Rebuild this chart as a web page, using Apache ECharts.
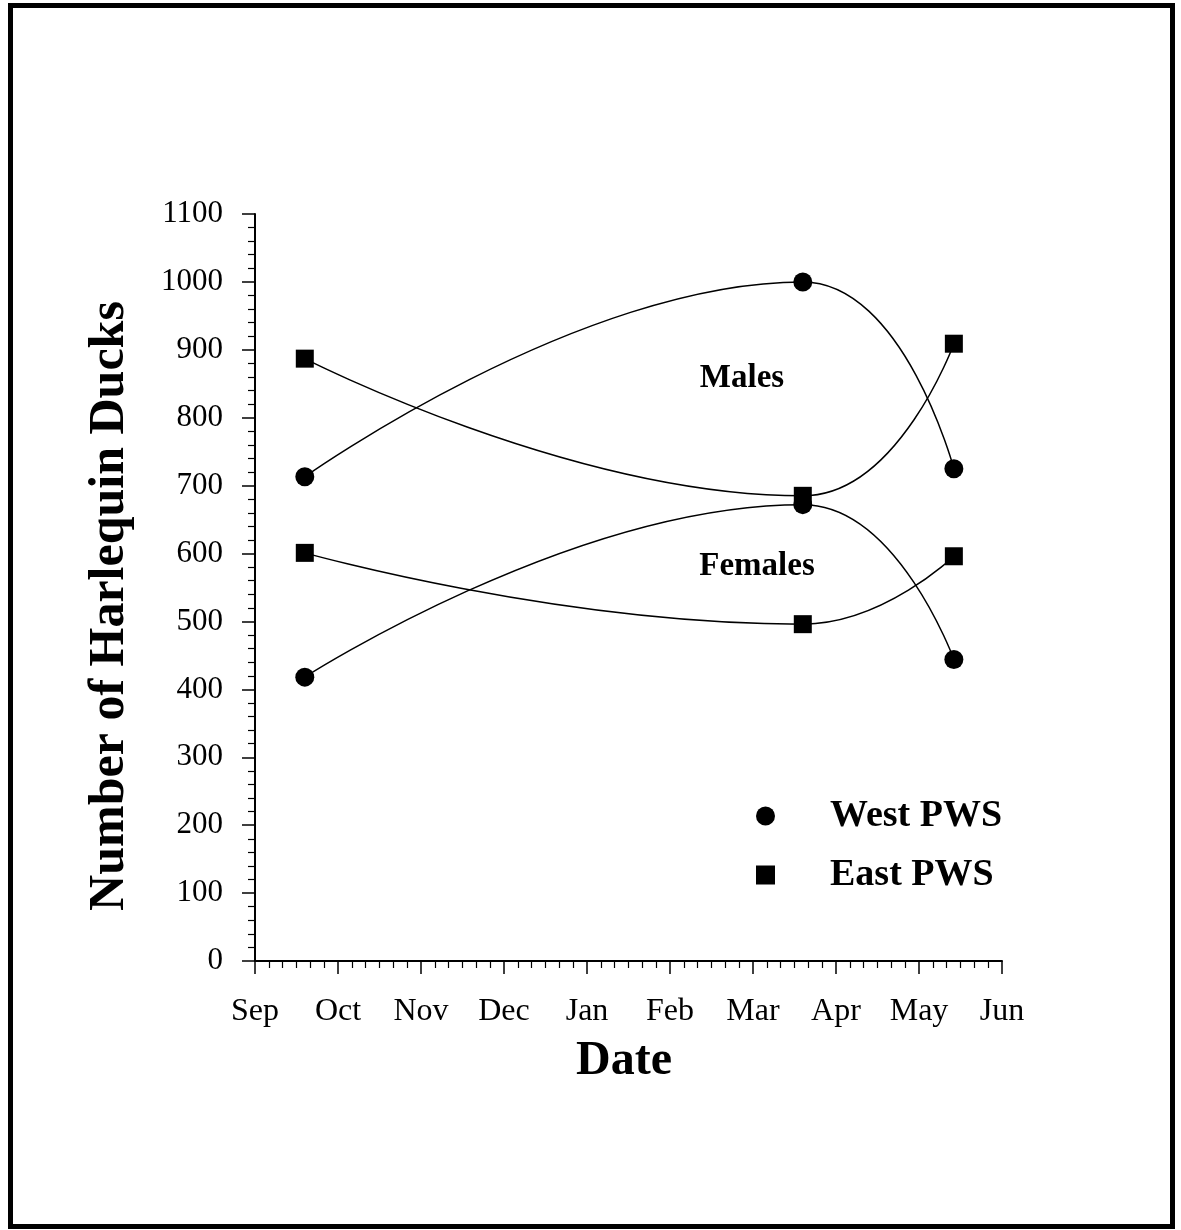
<!DOCTYPE html>
<html>
<head>
<meta charset="utf-8">
<script src="https://cdn.jsdelivr.net/npm/echarts@6/dist/echarts.min.js"></script>
<style>
html,body{margin:0;padding:0;background:#fff;}
#chart{width:1181px;height:1230px;}
</style>
</head>
<body>
<div id="chart"></div>
<script>
// Month tick labels (x axis counted in months from 1 Sep)
const monthLabels = ['Sep','Oct','Nov','Dec','Jan','Feb','Mar','Apr','May','Jun'];
// Survey dates, in months after 1 Sep
const surveyDates = [0.6, 6.6, 8.42];
// Counts of Harlequin Ducks
const westMales   = [713, 1000, 725];
const eastMales   = [887, 685, 909];
const westFemales = [418, 672, 444];
const eastFemales = [601, 496, 596];

const FONT = '"Liberation Serif","Times New Roman",serif';
const pairs = (vals) => surveyDates.map((d, i) => [d, vals[i]]);

function lineSeries(name, vals, symbol, size) {
  return {
    name: name,
    type: 'line',
    data: pairs(vals),
    smooth: 0.5,
    symbol: symbol,
    symbolSize: size,
    showAllSymbol: true,
    itemStyle: {color: '#000'},
    lineStyle: {color: '#000', width: 1.5},
    z: 3
  };
}

const chart = echarts.init(document.getElementById('chart'), null, {renderer: 'canvas'});
chart.setOption({
  animation: false,
  backgroundColor: '#fff',
  grid: {left: 255, right: 179, top: 214, bottom: 269, containLabel: false},
  xAxis: {
    type: 'value', min: 0, max: 9, interval: 1,
    axisLine: {show: true, lineStyle: {color: '#000', width: 2}},
    axisTick: {show: true, length: 13, lineStyle: {color: '#000', width: 1.5}},
    minorTick: {show: true, splitNumber: 6, length: 7, lineStyle: {color: '#000', width: 1.2}},
    splitLine: {show: false},
    axisLabel: {
      margin: 35, color: '#000', fontFamily: FONT, fontSize: 32,
      formatter: (v) => monthLabels[Math.round(v)] || ''
    }
  },
  yAxis: {
    type: 'value', min: 0, max: 1100, interval: 100,
    axisLine: {show: true, lineStyle: {color: '#000', width: 2}},
    axisTick: {show: true, length: 13, lineStyle: {color: '#000', width: 1.5}},
    minorTick: {show: true, splitNumber: 5, length: 7, lineStyle: {color: '#000', width: 1.2}},
    splitLine: {show: false},
    axisLabel: {margin: 32, color: '#000', fontFamily: FONT, fontSize: 31,
      formatter: (v) => String(v)}
  },
  legend: {
    orient: 'vertical', left: 756, top: 797, padding: 0,
    itemWidth: 19, itemHeight: 19, itemGap: 21,
    data: [{name: 'West PWS', icon: 'circle'}, {name: 'East PWS', icon: 'rect'}],
    selectedMode: false,
    textStyle: {fontFamily: FONT, fontSize: 38, fontWeight: 'bold', color: '#000', padding: [6, 0, 0, 50]}
  },
  series: [
    lineSeries('West PWS', westMales, 'circle', 19),
    lineSeries('East PWS', eastMales, 'rect', 18),
    lineSeries('West PWS', westFemales, 'circle', 19),
    lineSeries('East PWS', eastFemales, 'rect', 18)
  ],
  graphic: [
    {type: 'rect', shape: {x: 10.5, y: 5.5, width: 1162, height: 1221},
     style: {fill: 'none', stroke: '#000', lineWidth: 5}, silent: true},
    {type: 'text', x: 742, y: 378, style: {text: 'Males', fontFamily: FONT, fontSize: 33, fontWeight: 'bold', fill: '#000', textAlign: 'center', textVerticalAlign: 'middle'}},
    {type: 'text', x: 757, y: 566, style: {text: 'Females', fontFamily: FONT, fontSize: 33, fontWeight: 'bold', fill: '#000', textAlign: 'center', textVerticalAlign: 'middle'}},
    {type: 'text', x: 624, y: 1062, style: {text: 'Date', fontFamily: FONT, fontSize: 48, fontWeight: 'bold', fill: '#000', textAlign: 'center', textVerticalAlign: 'middle'}},
    {type: 'text', x: 110, y: 606, rotation: Math.PI / 2, style: {text: 'Number of Harlequin Ducks', fontFamily: FONT, fontSize: 50, fontWeight: 'bold', fill: '#000', textAlign: 'center', textVerticalAlign: 'middle'}}
  ]
});
</script>
</body>
</html>
